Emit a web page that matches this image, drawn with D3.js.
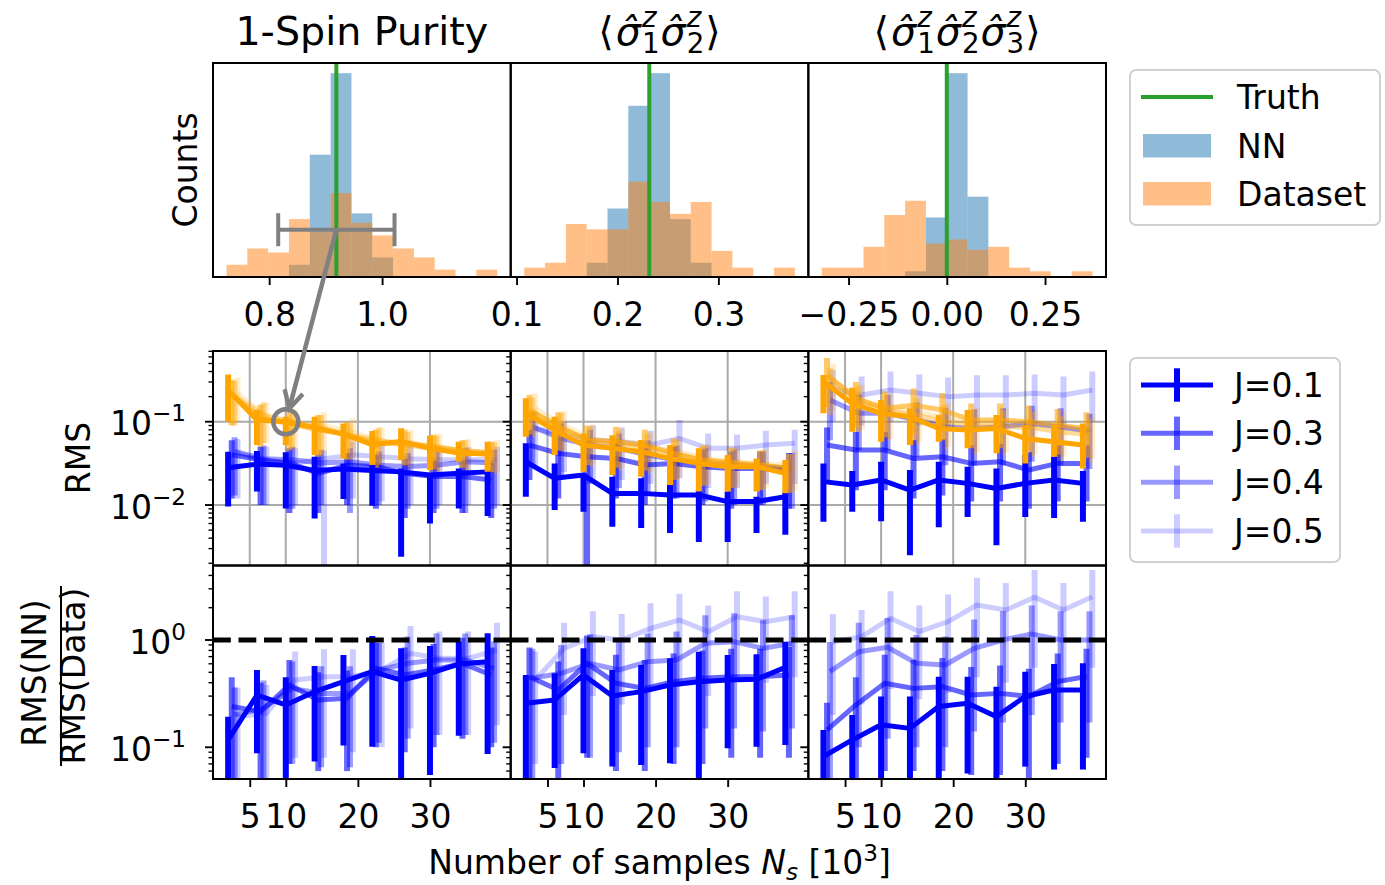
<!DOCTYPE html>
<html><head><meta charset="utf-8">
<script src="https://cdn.jsdelivr.net/npm/d3@7"></script>
<style>body{margin:0;background:#fff} text{font-family:"DejaVu Sans",sans-serif;fill:#000}</style>
</head><body><svg id="c" width="1385" height="885"></svg>
<script>
// ---------------- DATA ----------------
const colTitles = ["1-Spin Purity", "zz", "zzz"];
const Ns = [2,6,10,14,18,22,26,30,34,38];
const Jlabels = ["J=0.1","J=0.3","J=0.4","J=0.5"];
const Jalpha = [1, 0.6, 0.4, 0.2];
const Joffset = [0, 0.5, 0.9, 1.3];

// histograms (13 bins each)
const histBinStart = [0.7245, 0.1076, -0.318];
const histBinWidth = [0.03687, 0.02063, 0.05298];
const histNN = [
 [0,0,0,3,30,50,15.6,4.8,0,0,0,0,0],
 [0,0,0,3.5,16.8,42,50,14.2,3.5,0,0,0,0],
 [0,0,0,0,1.4,14.6,50,19.7,0,0,0,0,0]];
const histData = [
 [3,7,6,14.2,11,20.6,13.3,10.2,7,4.8,1.8,0,1.8],
 [2.3,3.5,13,11.7,11.7,23.4,18.4,15.5,18.4,6.4,2.3,0,2.3],
 [2.3,2.3,7.4,15.2,18.7,8.2,9.2,6.7,7.4,2.3,1.4,0,1.4]];
const truthVals = [0.919, 0.2315, 0.0];
const histTicks = [[0.8,1.0],[0.1,0.2,0.3],[-0.25,0,0.25]];
const histTickLabels = [["0.8","1.0"],["0.1","0.2","0.3"],["\u22120.25","0.00","0.25"]];
// annotation: dataset spread in purity histogram and the RMS point it maps to
const annotCenter = 0.919, annotHalf = 0.103, annotCount = 11.6;
const circleN = 10, circleRMS = 0.1;

// middle row: RMS of NN (blue) and Dataset (orange); rows J=0.1,0.3,0.4,0.5
const purityNN = [
 [0.028,0.031,0.030,0.026,0.027,0.026,0.025,0.023,0.024,0.025],
 [0.040,0.035,0.032,0.024,0.030,0.029,0.024,0.022,0.022,0.020],
 [0.044,0.036,0.035,0.032,0.033,0.030,0.029,0.030,0.033,0.032],
 [0.042,0.033,0.032,0.036,0.040,0.038,0.036,0.035,0.035,0.035]];
const purityNNlo = [
 [0.0096,0.0145,0.0091,0.0069,0.0118,0.0098,0.0024,0.0060,0.0091,0.0074],
 [0.012,0.010,0.008,0.008,0.010,0.009,0.007,0.008,0.008,0.007],
 [0.013,0.010,0.009,0.010,0.008,0.010,0.009,0.009,0.008,0.009],
 [0.012,0.010,0.010,0.0015,0.012,0.011,0.010,0.010,0.010,0.010]];
const purityNNhi = [
 [0.0437,0.0445,0.0429,0.0380,0.0316,0.0302,0.0275,0.0240,0.0275,0.0263],
 [0.060,0.050,0.048,0.040,0.042,0.040,0.036,0.034,0.034,0.032],
 [0.065,0.052,0.050,0.046,0.048,0.044,0.042,0.044,0.048,0.046],
 [0.062,0.050,0.048,0.045,0.058,0.055,0.052,0.050,0.050,0.050]];
const purityData = [
 [0.240,0.105,0.100,0.085,0.071,0.053,0.058,0.048,0.042,0.041],
 [0.210,0.110,0.095,0.080,0.070,0.055,0.055,0.050,0.045,0.042],
 [0.200,0.120,0.100,0.085,0.068,0.060,0.052,0.047,0.043,0.040],
 [0.220,0.115,0.098,0.090,0.075,0.058,0.056,0.050,0.044,0.043]];
const purityDatalo = [
 [0.100,0.0525,0.0525,0.0398,0.0363,0.0302,0.0347,0.0263,0.0331,0.0251],
 [0.090,0.050,0.045,0.038,0.035,0.028,0.030,0.027,0.028,0.025],
 [0.090,0.055,0.048,0.040,0.035,0.030,0.028,0.025,0.026,0.024],
 [0.100,0.055,0.045,0.042,0.037,0.030,0.030,0.026,0.025,0.024]];
const purityDatahi = [
 [0.370,0.138,0.115,0.115,0.0955,0.0773,0.0832,0.068,0.0575,0.0575],
 [0.320,0.160,0.130,0.120,0.100,0.080,0.080,0.070,0.060,0.058],
 [0.310,0.170,0.140,0.120,0.095,0.085,0.075,0.068,0.060,0.056],
 [0.340,0.170,0.140,0.130,0.110,0.085,0.080,0.072,0.062,0.060]];

const zzNN = [
 [0.0331,0.0209,0.0229,0.0138,0.0138,0.0132,0.0132,0.0110,0.0110,0.0126],
 [0.0525,0.0417,0.0380,0.0363,0.0302,0.0316,0.0288,0.0275,0.0275,0.0263],
 [0.0871,0.0631,0.0525,0.0479,0.0398,0.0347,0.0316,0.0302,0.0288,0.0275],
 [0.0830,0.0692,0.0603,0.0575,0.0525,0.0631,0.0479,0.0479,0.0525,0.0550]];
const zzNNlo = [
 [0.0126,0.0087,0.0083,0.0055,0.0053,0.0046,0.0036,0.0036,0.0046,0.0044],
 [0.020,0.012,0.0015,0.012,0.010,0.012,0.010,0.009,0.010,0.009],
 [0.030,0.022,0.018,0.016,0.014,0.012,0.011,0.010,0.010,0.009],
 [0.030,0.025,0.020,0.020,0.018,0.021,0.016,0.016,0.018,0.018]];
const zzNNhi = [
 [0.0550,0.0316,0.0240,0.0219,0.0209,0.0174,0.0151,0.0145,0.0126,0.0145],
 [0.080,0.065,0.060,0.055,0.048,0.050,0.046,0.044,0.044,0.042],
 [0.130,0.095,0.080,0.072,0.060,0.052,0.048,0.046,0.044,0.042],
 [0.130,0.100,0.090,0.085,0.078,0.105,0.072,0.070,0.078,0.080]];
const zzData = [
 [0.126,0.0794,0.0525,0.0479,0.0437,0.0363,0.0316,0.0288,0.0288,0.0240],
 [0.138,0.0870,0.0603,0.0575,0.0525,0.0417,0.0347,0.0325,0.0302,0.0275],
 [0.130,0.0850,0.0580,0.0520,0.0480,0.0400,0.0340,0.0310,0.0300,0.0270],
 [0.145,0.0900,0.0620,0.0560,0.0500,0.0430,0.0360,0.0330,0.0310,0.0300]];
const zzDatalo = [
 [0.0661,0.0398,0.0251,0.0229,0.0219,0.0174,0.0145,0.0145,0.0145,0.0138],
 [0.070,0.045,0.030,0.028,0.026,0.020,0.017,0.016,0.015,0.014],
 [0.065,0.043,0.029,0.026,0.024,0.020,0.017,0.016,0.015,0.014],
 [0.072,0.045,0.031,0.028,0.025,0.021,0.018,0.017,0.016,0.015]];
const zzDatahi = [
 [0.191,0.115,0.0724,0.069,0.0603,0.0525,0.0479,0.0398,0.0363,0.0347],
 [0.210,0.130,0.090,0.087,0.080,0.063,0.052,0.049,0.045,0.041],
 [0.195,0.128,0.087,0.078,0.072,0.060,0.051,0.047,0.045,0.041],
 [0.220,0.135,0.093,0.084,0.075,0.065,0.054,0.050,0.047,0.045]];

const zzzNN = [
 [0.0191,0.0174,0.0200,0.0151,0.0200,0.0182,0.0158,0.0182,0.0200,0.0182],
 [0.0525,0.0457,0.0457,0.0363,0.0380,0.0316,0.0331,0.0263,0.0316,0.0316],
 [0.182,0.126,0.126,0.105,0.087,0.083,0.087,0.095,0.087,0.076],
 [0.250,0.209,0.240,0.219,0.200,0.209,0.209,0.219,0.209,0.240]];
const zzzNNlo = [
 [0.0063,0.0083,0.0064,0.0025,0.0054,0.0072,0.0033,0.0072,0.0070,0.0063],
 [0.018,0.015,0.015,0.012,0.013,0.011,0.011,0.009,0.011,0.011],
 [0.060,0.045,0.045,0.038,0.030,0.030,0.030,0.033,0.030,0.027],
 [0.100,0.090,0.100,0.090,0.085,0.090,0.090,0.095,0.090,0.100]];
const zzzNNhi = [
 [0.0316,0.0256,0.0331,0.0263,0.0331,0.0288,0.0275,0.0398,0.0380,0.0256],
 [0.085,0.075,0.075,0.060,0.062,0.052,0.054,0.043,0.052,0.052],
 [0.300,0.210,0.210,0.170,0.145,0.140,0.145,0.155,0.145,0.125],
 [0.420,0.350,0.400,0.370,0.340,0.360,0.360,0.370,0.350,0.400]];
const zzzData = [
 [0.302,0.166,0.126,0.115,0.083,0.0794,0.083,0.063,0.0575,0.0525],
 [0.363,0.190,0.145,0.158,0.138,0.105,0.105,0.100,0.091,0.083],
 [0.280,0.170,0.135,0.120,0.100,0.090,0.088,0.085,0.075,0.070],
 [0.320,0.180,0.140,0.130,0.110,0.095,0.095,0.092,0.085,0.080]];
const zzzDatalo = [
 [0.126,0.0759,0.0575,0.0525,0.0575,0.0479,0.0417,0.0316,0.038,0.0275],
 [0.150,0.085,0.065,0.070,0.060,0.048,0.048,0.045,0.040,0.037],
 [0.120,0.075,0.060,0.053,0.045,0.040,0.040,0.038,0.034,0.032],
 [0.135,0.080,0.062,0.058,0.050,0.043,0.043,0.041,0.038,0.036]];
const zzzDatahi = [
 [0.363,0.256,0.182,0.145,0.120,0.138,0.120,0.0912,0.0912,0.0955],
 [0.580,0.300,0.230,0.250,0.220,0.165,0.165,0.155,0.142,0.130],
 [0.440,0.270,0.210,0.190,0.160,0.140,0.136,0.132,0.116,0.108],
 [0.500,0.280,0.220,0.205,0.170,0.148,0.148,0.143,0.132,0.124]];

// bottom row: RMS(NN)/RMS(Data)
const purityRatio = [
 [0.117,0.307,0.248,0.330,0.409,0.507,0.424,0.489,0.597,0.628],
 [0.240,0.215,0.380,0.276,0.286,0.545,0.472,0.525,0.606,0.472],
 [0.200,0.231,0.354,0.318,0.318,0.525,0.606,0.651,0.651,0.545],
 [0.193,0.207,0.424,0.455,0.455,0.525,0.751,0.675,0.675,0.807]];
const purityRatiolo = [
 [0.030,0.088,0.040,0.0735,0.1037,0.101,0.030,0.055,0.128,0.0865],
 [0.030,0.050,0.070,0.060,0.060,0.100,0.090,0.100,0.120,0.100],
 [0.040,0.050,0.070,0.065,0.065,0.110,0.120,0.130,0.130,0.110],
 [0.030,0.040,0.080,0.080,0.090,0.100,0.150,0.130,0.130,0.160]];
const purityRatiohi = [
 [0.193,0.525,0.449,0.573,0.725,1.090,0.836,0.879,0.965,1.154],
 [0.450,0.400,0.650,0.500,0.520,0.950,0.850,0.920,1.050,0.850],
 [0.360,0.420,0.630,0.570,0.570,0.940,1.080,1.150,1.150,0.970],
 [0.360,0.380,0.780,0.820,0.820,0.950,1.350,1.200,1.200,1.450]];
const zzRatio = [
 [0.257,0.276,0.472,0.301,0.330,0.381,0.409,0.424,0.430,0.556],
 [0.455,0.342,0.606,0.395,0.354,0.409,0.440,0.455,0.455,0.472],
 [0.440,0.489,0.606,0.525,0.628,0.651,0.931,0.965,0.836,0.931],
 [0.424,0.836,1.074,1.000,1.284,1.537,1.196,1.649,1.481,1.649]];
const zzRatiolo = [
 [0.030,0.064,0.088,0.066,0.0685,0.071,0.030,0.098,0.101,0.105],
 [0.040,0.050,0.080,0.060,0.060,0.070,0.070,0.080,0.080,0.080],
 [0.050,0.070,0.080,0.090,0.100,0.100,0.150,0.150,0.140,0.150],
 [0.070,0.200,0.300,0.250,0.350,0.400,0.300,0.450,0.400,0.450]];
const zzRatiohi = [
 [0.472,0.489,0.836,0.525,0.585,0.675,0.778,0.725,0.735,0.965],
 [0.850,0.630,1.100,0.730,0.650,0.750,0.800,0.830,0.830,0.860],
 [0.830,0.900,1.130,0.960,1.150,1.200,1.700,1.780,1.530,1.700],
 [0.780,1.450,1.850,1.750,2.200,2.700,2.100,2.850,2.550,2.850]];
const zzzRatio = [
 [0.082,0.117,0.162,0.150,0.240,0.257,0.193,0.297,0.342,0.342],
 [0.145,0.248,0.395,0.354,0.367,0.307,0.318,0.297,0.409,0.456],
 [0.507,0.778,0.855,0.606,0.585,0.836,1.000,1.140,1.000,1.000],
 [0.965,1.074,1.592,1.196,1.481,2.119,1.904,2.500,1.904,2.533]];
const zzzRatiolo = [
 [0.030,0.051,0.051,0.051,0.051,0.057,0.030,0.066,0.062,0.062],
 [0.030,0.040,0.060,0.060,0.060,0.055,0.055,0.050,0.070,0.080],
 [0.050,0.100,0.120,0.100,0.100,0.140,0.170,0.200,0.170,0.170],
 [0.200,0.250,0.350,0.280,0.320,0.450,0.400,0.550,0.400,0.550]];
const zzzRatiohi = [
 [0.145,0.200,0.297,0.297,0.455,0.455,0.367,0.507,0.597,0.606],
 [0.260,0.450,0.730,0.650,0.680,0.560,0.580,0.540,0.750,0.830],
 [0.960,1.450,1.600,1.120,1.080,1.550,1.850,2.100,1.850,1.850],
 [1.750,1.900,2.850,2.100,2.650,3.800,3.400,4.500,3.400,4.500]];

const xTicks = [5,10,20,30];
const rmsDomain = [0.00188, 0.706];
const ratioDomain = [0.0506, 4.95];
const nsDomain = [-0.1, 41.2];

// ---------------- LAYOUT ----------------
const svg = d3.select("#c");
const defs = svg.append("defs");
const colX = [213, 510.7, 808.3], colW = 297.7;
const rowHist = [63, 277], rowMid = [351, 565.5], rowBot = [565.5, 779];
const FS = 33, TFS = 39.6, SFS = 23.1;
const BLUE = "#0000ff", ORANGE = "#ffa500";

function clipRect(id, x, y, w, h) {
  defs.append("clipPath").attr("id", id).append("rect")
    .attr("x", x).attr("y", y).attr("width", w).attr("height", h);
  return `url(#${id})`;
}
function spine(g, x, y, w, h) {
  g.append("rect").attr("x", x).attr("y", y).attr("width", w).attr("height", h)
    .attr("fill", "none").attr("stroke", "#000").attr("stroke-width", 2);
}

// ---------------- HISTOGRAM ROW ----------------
const histX = [];
const histY = [];
for (let c = 0; c < 3; c++) {
  const g = svg.append("g");
  const edges = d3.range(14).map(i => histBinStart[c] + i * histBinWidth[c]);
  const span = edges[13] - edges[0];
  const x = d3.scaleLinear().domain([edges[0] - 0.05 * span, edges[13] + 0.05 * span])
    .range([colX[c], colX[c] + colW]);
  const ymax = 1.05 * d3.max(histNN[c].concat(histData[c]));
  const y = d3.scaleLinear().domain([0, ymax]).range([rowHist[1], rowHist[0]]);
  histX.push(x); histY.push(y);
  const cp = clipRect("ch" + c, colX[c], rowHist[0], colW, rowHist[1] - rowHist[0]);
  const pg = g.append("g").attr("clip-path", cp);
  [[histNN[c], "#1f77b4"], [histData[c], "#ff7f0e"]].forEach(([cnt, col]) => {
    pg.selectAll(null).data(cnt).enter().append("rect")
      .attr("x", (d, i) => x(edges[i]))
      .attr("width", (d, i) => x(edges[i + 1]) - x(edges[i]))
      .attr("y", d => y(d)).attr("height", d => y(0) - y(d))
      .attr("fill", col).attr("fill-opacity", 0.5);
  });
  pg.append("line").attr("x1", x(truthVals[c])).attr("x2", x(truthVals[c]))
    .attr("y1", rowHist[0]).attr("y2", rowHist[1])
    .attr("stroke", "#2ca02c").attr("stroke-width", 4);
  const ax = g.append("g").attr("transform", `translate(0,${rowHist[1]})`)
    .call(d3.axisBottom(x).tickValues(histTicks[c]).tickFormat((d, i) => histTickLabels[c][i]).tickSize(8));
  ax.select(".domain").remove();
  ax.selectAll("line").attr("stroke", "#000").attr("stroke-width", 1.9);
  ax.selectAll("text").attr("y", 49).attr("dy", 0).attr("font-size", FS)
    .attr("font-family", "DejaVu Sans").attr("fill", "#000");
  spine(g, colX[c], rowHist[0], colW, rowHist[1] - rowHist[0]);
}

// ---------------- RMS / RATIO ROWS ----------------
const midSets = [
  [purityNN, purityNNlo, purityNNhi, purityData, purityDatalo, purityDatahi],
  [zzNN, zzNNlo, zzNNhi, zzData, zzDatalo, zzDatahi],
  [zzzNN, zzzNNlo, zzzNNhi, zzzData, zzzDatalo, zzzDatahi]];
const botSets = [
  [purityRatio, purityRatiolo, purityRatiohi],
  [zzRatio, zzRatiolo, zzRatiohi],
  [zzzRatio, zzzRatiolo, zzzRatiohi]];

function drawSeries(g, x, y, vals, lo, hi, color, alpha, off) {
  g.selectAll(null).data(vals).enter().append("line")
    .attr("x1", (d, i) => x(Ns[i] + off)).attr("x2", (d, i) => x(Ns[i] + off))
    .attr("y1", (d, i) => y(hi[i])).attr("y2", (d, i) => y(lo[i]))
    .attr("stroke", color).attr("stroke-width", 6).attr("stroke-opacity", alpha);
  g.append("path").datum(vals)
    .attr("d", d3.line().x((d, i) => x(Ns[i] + off)).y(d => y(d)))
    .attr("fill", "none").attr("stroke", color).attr("stroke-width", 5)
    .attr("stroke-opacity", alpha).attr("stroke-linejoin", "round");
}

function logTicks(g, y, x0, domain, labelled) {
  const lo = Math.floor(Math.log10(domain[0])), hi = Math.ceil(Math.log10(domain[1]));
  for (let k = lo; k <= hi; k++) {
    for (let m = 1; m <= 9; m++) {
      const v = m * Math.pow(10, k);
      if (v < domain[0] || v > domain[1]) continue;
      const yy = y(v);
      g.append("line").attr("x1", x0).attr("x2", x0 - (m === 1 ? 8 : 4.5))
        .attr("y1", yy).attr("y2", yy).attr("stroke", "#000")
        .attr("stroke-width", m === 1 ? 1.9 : 1.4);
      if (m === 1 && labelled) {
        const t = g.append("text").attr("x", 186).attr("y", yy + 13.5)
          .attr("text-anchor", "end").attr("font-size", FS);
        t.append("tspan").text("10");
        t.append("tspan").attr("font-size", SFS).attr("dy", -14)
          .text(k < 0 ? "\u2212" + (-k) : String(k));
      }
    }
  }
}

const midX = [], midY = [];
for (let c = 0; c < 3; c++) {
  const x = d3.scaleLinear().domain(nsDomain).range([colX[c], colX[c] + colW]);
  {
    const y = d3.scaleLog().domain(rmsDomain).range([rowMid[1], rowMid[0]]);
    midX.push(x); midY.push(y);
    const g = svg.append("g");
    const cp = clipRect("cm" + c, colX[c], rowMid[0], colW, rowMid[1] - rowMid[0]);
    const pg = g.append("g").attr("clip-path", cp);
    xTicks.forEach(t => pg.append("line").attr("x1", x(t)).attr("x2", x(t))
      .attr("y1", rowMid[0]).attr("y2", rowMid[1]).attr("stroke", "#aaaaaa").attr("stroke-width", 2));
    [0.1, 0.01].forEach(t => pg.append("line").attr("x1", colX[c]).attr("x2", colX[c] + colW)
      .attr("y1", y(t)).attr("y2", y(t)).attr("stroke", "#aaaaaa").attr("stroke-width", 2));
    const [nv, nlo, nhi, dv, dlo, dhi] = midSets[c];
    for (let j = 3; j >= 0; j--) {
      drawSeries(pg, x, y, nv[j], nlo[j], nhi[j], BLUE, Jalpha[j], Joffset[j]);
      drawSeries(pg, x, y, dv[j], dlo[j], dhi[j], ORANGE, Jalpha[j], Joffset[j]);
    }
    logTicks(g, y, colX[c], rmsDomain, c === 0);
    spine(g, colX[c], rowMid[0], colW, rowMid[1] - rowMid[0]);
  }
  {
    const y = d3.scaleLog().domain(ratioDomain).range([rowBot[1], rowBot[0]]);
    const g = svg.append("g");
    const cp = clipRect("cb" + c, colX[c], rowBot[0], colW, rowBot[1] - rowBot[0]);
    const pg = g.append("g").attr("clip-path", cp);
    const [rv, rlo, rhi] = botSets[c];
    for (let j = 3; j >= 0; j--) drawSeries(pg, x, y, rv[j], rlo[j], rhi[j], BLUE, Jalpha[j], Joffset[j]);
    pg.append("line").attr("x1", colX[c]).attr("x2", colX[c] + colW)
      .attr("y1", y(1)).attr("y2", y(1)).attr("stroke", "#000").attr("stroke-width", 4.8)
      .attr("stroke-dasharray", "17.8,7.7");
    logTicks(g, y, colX[c], ratioDomain, c === 0);
    const ax = g.append("g").attr("transform", `translate(0,${rowBot[1]})`)
      .call(d3.axisBottom(x).tickValues(xTicks).tickSize(8));
    ax.select(".domain").remove();
    ax.selectAll("line").attr("stroke", "#000").attr("stroke-width", 1.9);
    ax.selectAll("text").attr("y", 49).attr("dy", 0).attr("font-size", FS)
      .attr("font-family", "DejaVu Sans").attr("fill", "#000");
    spine(g, colX[c], rowBot[0], colW, rowBot[1] - rowBot[0]);
  }
}

// ---------------- ANNOTATION (error bar + arrow + circle) ----------------
{
  const hx = histX[0], hy = histY[0];
  const g = svg.append("g");
  const yy = hy(annotCount);
  const x1 = hx(annotCenter - annotHalf), x2 = hx(annotCenter + annotHalf);
  g.append("line").attr("x1", x1).attr("x2", x2).attr("y1", yy).attr("y2", yy)
    .attr("stroke", "#808080").attr("stroke-width", 4);
  [x1, x2].forEach(xx => g.append("line").attr("x1", xx).attr("x2", xx)
    .attr("y1", yy - 16.5).attr("y2", yy + 16.5).attr("stroke", "#808080").attr("stroke-width", 4));
  const cx = midX[0](circleN), cy = midY[0](circleRMS), r = 12.5;
  g.append("circle").attr("cx", cx).attr("cy", cy).attr("r", r)
    .attr("fill", "none").attr("stroke", "#808080").attr("stroke-width", 4.5);
  const sx = hx(annotCenter), sy = yy;
  const dx = cx - sx, dy = cy - sy, L = Math.hypot(dx, dy);
  const ux = dx / L, uy = dy / L;
  const tx = cx - ux * (r + 1), ty = cy - uy * (r + 1);
  g.append("line").attr("x1", sx).attr("y1", sy).attr("x2", tx).attr("y2", ty)
    .attr("stroke", "#808080").attr("stroke-width", 4.5);
  const ang = 28 * Math.PI / 180, hl = 20;
  const back = [-ux, -uy];
  const rot = (v, a) => [v[0] * Math.cos(a) - v[1] * Math.sin(a), v[0] * Math.sin(a) + v[1] * Math.cos(a)];
  const a1 = rot(back, ang), a2 = rot(back, -ang);
  g.append("path")
    .attr("d", `M${tx + a1[0] * hl},${ty + a1[1] * hl}L${tx},${ty}L${tx + a2[0] * hl},${ty + a2[1] * hl}`)
    .attr("fill", "none").attr("stroke", "#808080").attr("stroke-width", 4.5)
    .attr("stroke-linejoin", "miter");
}

// ---------------- TITLES ----------------
function mathTitle(cx, baseY, pairs) {
  // single text element; tspans positioned absolutely (hatted sigma with stacked z / index)
  const g = svg.append("g");
  const t = g.append("text");
  let cur = 0;
  const put = (txt, size, italic, dy) => {
    const s = t.append("tspan").attr("x", cur).attr("y", baseY + dy).attr("font-size", size)
      .attr("font-style", italic ? "italic" : "normal").text(txt);
    return s.node().getComputedTextLength();
  };
  cur += put("\u27E8", TFS, false, 0) + 2;
  pairs.forEach(([sup, sub]) => {
    cur += put("\u03C3\u0302", TFS, true, 0) + 1;
    const w1 = put(sup, TFS * 0.7, true, -18);
    const w2 = put(sub, TFS * 0.7, false, 8);
    cur += Math.max(w1, w2) + 1;
  });
  cur += put("\u27E9", TFS, false, 0);
  g.attr("transform", `translate(${cx - cur / 2},0)`);
}
svg.append("text").attr("x", colX[0] + colW / 2).attr("y", 45).attr("text-anchor", "middle")
  .attr("font-size", TFS).text(colTitles[0]);
mathTitle(colX[1] + colW / 2, 45, [["z", "1"], ["z", "2"]]);
mathTitle(colX[2] + colW / 2, 45, [["z", "1"], ["z", "2"], ["z", "3"]]);

// ---------------- AXIS LABELS ----------------
svg.append("text").attr("transform", "translate(197,170) rotate(-90)")
  .attr("text-anchor", "middle").attr("font-size", FS).text("Counts");
svg.append("text").attr("transform", "translate(90,458) rotate(-90)")
  .attr("text-anchor", "middle").attr("font-size", FS).text("RMS");
svg.append("text").attr("transform", "translate(46,673) rotate(-90)")
  .attr("text-anchor", "middle").attr("font-size", FS).text("RMS(NN)");
svg.append("text").attr("transform", "translate(85,676) rotate(-90)")
  .attr("text-anchor", "middle").attr("font-size", FS).text("RMS(Data)");
svg.append("line").attr("x1", 61).attr("x2", 61).attr("y1", 586).attr("y2", 766)
  .attr("stroke", "#000").attr("stroke-width", 2);
{
  const t = svg.append("text").attr("x", colX[1] + colW / 2).attr("y", 874)
    .attr("text-anchor", "middle").attr("font-size", FS);
  t.append("tspan").text("Number of samples ");
  t.append("tspan").attr("font-style", "italic").text("N");
  t.append("tspan").attr("font-style", "italic").attr("font-size", SFS).attr("dy", 6).text("s");
  t.append("tspan").attr("dy", -6).text(" [10");
  t.append("tspan").attr("font-size", SFS).attr("dy", -13).text("3");
  t.append("tspan").attr("dy", 13).text("]");
}

// ---------------- LEGENDS ----------------
{
  const g = svg.append("g");
  g.append("rect").attr("x", 1130).attr("y", 70).attr("width", 250).attr("height", 155)
    .attr("rx", 6).attr("fill", "#fff").attr("fill-opacity", 0.8)
    .attr("stroke", "#d0d0d0").attr("stroke-width", 2);
  g.append("line").attr("x1", 1141).attr("x2", 1213).attr("y1", 97).attr("y2", 97)
    .attr("stroke", "#2ca02c").attr("stroke-width", 4);
  g.append("rect").attr("x", 1143).attr("y", 134).attr("width", 68).attr("height", 23.5)
    .attr("fill", "#1f77b4").attr("fill-opacity", 0.5);
  g.append("rect").attr("x", 1143).attr("y", 182).attr("width", 68).attr("height", 23.5)
    .attr("fill", "#ff7f0e").attr("fill-opacity", 0.5);
  [["Truth", 97], ["NN", 145.7], ["Dataset", 194]].forEach(([s, yy]) =>
    g.append("text").attr("x", 1237).attr("y", yy + 12).attr("font-size", FS).text(s));
}
{
  const g = svg.append("g");
  g.append("rect").attr("x", 1130).attr("y", 358).attr("width", 210).attr("height", 204)
    .attr("rx", 6).attr("fill", "#fff").attr("fill-opacity", 0.8)
    .attr("stroke", "#d0d0d0").attr("stroke-width", 2);
  const ys = [385, 433.3, 482.3, 531];
  Jlabels.forEach((s, j) => {
    g.append("line").attr("x1", 1141).attr("x2", 1213).attr("y1", ys[j]).attr("y2", ys[j])
      .attr("stroke", BLUE).attr("stroke-width", 5).attr("stroke-opacity", Jalpha[j]);
    g.append("line").attr("x1", 1177).attr("x2", 1177).attr("y1", ys[j] - 16.7).attr("y2", ys[j] + 16.7)
      .attr("stroke", BLUE).attr("stroke-width", 6).attr("stroke-opacity", Jalpha[j]);
    g.append("text").attr("x", 1234).attr("y", ys[j] + 12).attr("font-size", FS).text(s);
  });
}
</script></body></html>
